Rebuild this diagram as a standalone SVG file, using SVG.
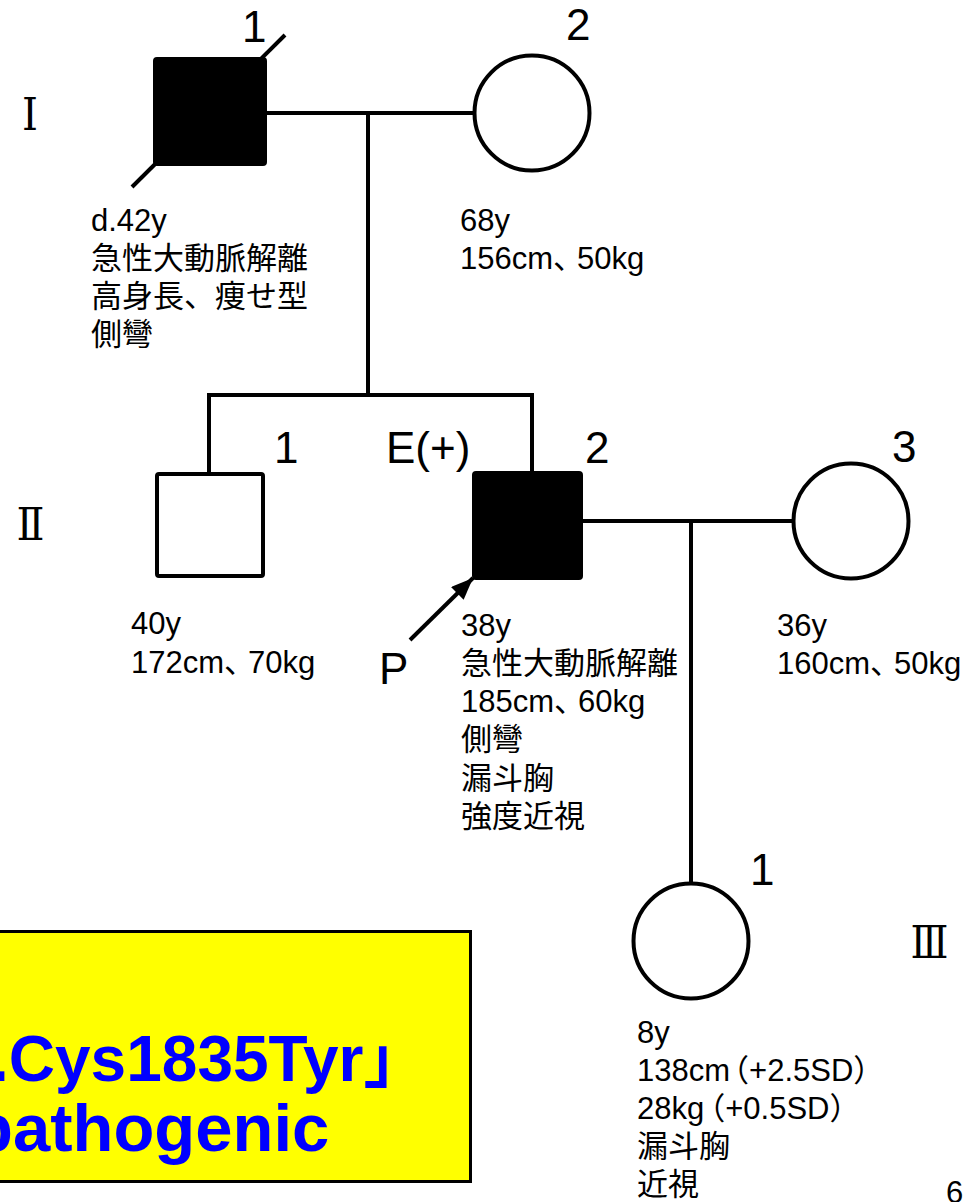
<svg xmlns="http://www.w3.org/2000/svg" width="965" height="1202" viewBox="0 0 965 1202">
<style>
.ln{stroke:#000;stroke-width:4;fill:none;stroke-linecap:butt}
.sym{stroke:#000;stroke-width:4}
.t{font-family:"Liberation Sans","Noto Sans CJK JP",sans-serif;font-size:31px;fill:#000}
.n{font-family:"Liberation Sans",sans-serif;font-size:44px;fill:#000}
.gen{font-family:"DejaVu Serif","Liberation Serif","Noto Sans CJK JP",serif;font-size:45px;fill:#000}
.bx{font-family:"Liberation Sans","Noto Sans CJK JP",sans-serif;font-weight:bold;fill:#0000FF}
</style>
<defs>
<marker id="ah" markerUnits="userSpaceOnUse" markerWidth="24" markerHeight="18" refX="22" refY="9" orient="auto">
<path d="M0,0 L22,9 L0,18 Z" fill="#000"/>
</marker>
</defs>
<rect width="965" height="1202" fill="#fff"/>

<g id="connectors">
<line class="ln" x1="266" y1="113" x2="476" y2="113"/>
<line class="ln" x1="368" y1="113" x2="368" y2="397"/>
<line class="ln" x1="207" y1="395" x2="534" y2="395"/>
<line class="ln" x1="209" y1="395" x2="209" y2="474"/>
<line class="ln" x1="532" y1="395" x2="532" y2="473"/>
<line class="ln" x1="582" y1="521" x2="795" y2="521"/>
<line class="ln" x1="691" y1="521" x2="691" y2="884"/>
<line class="ln" x1="410" y1="640" x2="473" y2="578" marker-end="url(#ah)"/>
</g>

<g id="gen-labels">
<text class="gen" x="22" y="130" textLength="16" lengthAdjust="spacingAndGlyphs">Ⅰ</text>
<text class="gen" x="16.5" y="540" textLength="28" lengthAdjust="spacingAndGlyphs">Ⅱ</text>
<text class="gen" x="910.5" y="958" textLength="38" lengthAdjust="spacingAndGlyphs">Ⅲ</text>
</g>

<g id="I-1">
<line class="ln" x1="132" y1="187" x2="285" y2="35"/>
<rect class="sym" x="155" y="59" width="110" height="105" rx="2" fill="#000"/>
<text class="n" x="242" y="42">1</text>
<text class="t" x="91" y="231">d.42y</text>
<text class="t" x="91" y="269">急性大動脈解離</text>
<text class="t" x="91" y="307">高身長、痩せ型</text>
<text class="t" x="91" y="345">側彎</text>
</g>

<g id="I-2">
<circle class="sym" cx="532" cy="113" r="57.5" fill="#fff"/>
<text class="n" x="566" y="40">2</text>
<text class="t" x="460" y="231">68y</text>
<text class="t" x="460" y="269">156cm、<tspan dx="-7">50kg</tspan></text>
</g>

<g id="II-1">
<rect class="sym" x="157" y="474" width="106" height="102" rx="2" fill="#fff"/>
<text class="n" x="274" y="463">1</text>
<text class="t" x="131" y="634">40y</text>
<text class="t" x="131" y="673">172cm、<tspan dx="-7">70kg</tspan></text>
</g>

<g id="II-2">
<rect class="sym" x="474" y="473" width="107" height="105" rx="2" fill="#000"/>
<text class="n" x="386" y="463">E(+)</text>
<text class="n" x="585" y="463">2</text>
<text class="n" x="379" y="684">P</text>
<text class="t" x="461" y="636">38y</text>
<text class="t" x="461" y="674">急性大動脈解離</text>
<text class="t" x="461" y="712">185cm、<tspan dx="-7">60kg</tspan></text>
<text class="t" x="461" y="750">側彎</text>
<text class="t" x="461" y="789">漏斗胸</text>
<text class="t" x="461" y="827">強度近視</text>
</g>

<g id="II-3">
<circle class="sym" cx="851" cy="521" r="57.5" fill="#fff"/>
<text class="n" x="892" y="462">3</text>
<text class="t" x="777" y="636">36y</text>
<text class="t" x="777" y="674">160cm、<tspan dx="-7">50kg</tspan></text>
</g>

<g id="III-1">
<circle class="sym" cx="691" cy="941" r="57.5" fill="#fff"/>
<text class="n" x="750" y="885">1</text>
<text class="t" x="637" y="1043">8y</text>
<text class="t" x="637" y="1081">138cm<tspan dx="-12">（</tspan>+2.5SD）</text>
<text class="t" x="637" y="1119">28kg<tspan dx="-10">（</tspan>+0.5SD）</text>
<text class="t" x="637" y="1157">漏斗胸</text>
<text class="t" x="637" y="1195">近視</text>
</g>

<g id="result-box">
<rect x="-10" y="931.5" width="480.5" height="250" fill="#FFFF00" stroke="#000" stroke-width="3"/>
<text class="bx" x="-9" y="1081" font-size="64">.Cys1835Tyr」</text>
<text class="bx" x="-28" y="1151" font-size="67">pathogenic</text>
</g>

<text class="t" x="946" y="1203">6</text>
</svg>
